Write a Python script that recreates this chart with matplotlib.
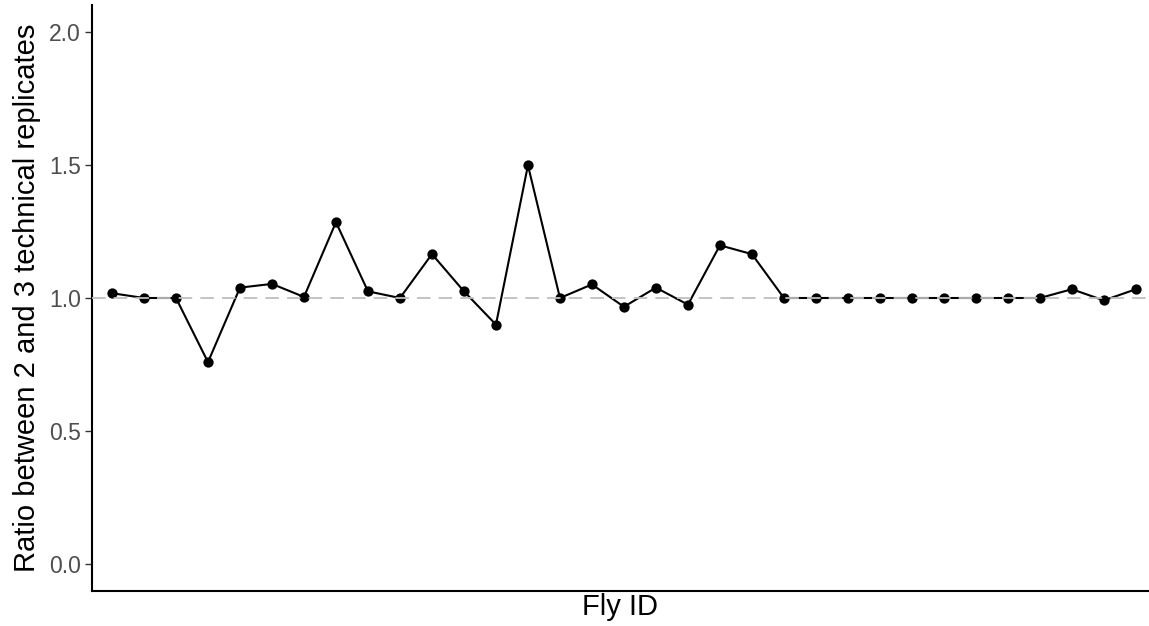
import matplotlib
matplotlib.use("Agg")
import matplotlib.pyplot as plt

fly_id = list(range(1, 34))
ratio = [1.018, 1.0, 1.0, 0.759, 1.039, 1.053, 1.004, 1.285, 1.025, 1.0,
         1.165, 1.025, 0.900, 1.499, 1.0, 1.051, 0.967, 1.039, 0.975, 1.198,
         1.165, 1.0, 1.0, 1.0, 1.0, 1.0, 1.0, 1.0, 1.0, 1.0,
         1.033, 0.991, 1.033]
y_ticks = [0.0, 0.5, 1.0, 1.5, 2.0]
y_tick_labels = ["0.0", "0.5", "1.0", "1.5", "2.0"]
ref_value = 1.0

plt.rcParams['font.family'] = ['Liberation Sans', 'DejaVu Sans']

W, H = 1149, 626
fig = plt.figure(figsize=(W / 100, H / 100), dpi=100)
left, right, top, bottom = 92, 1149, 5.4, 590.6
ax = fig.add_axes([left / W, 1 - bottom / H, (right - left) / W, (bottom - top) / H])

ax.plot(fly_id, ratio, color='black', linewidth=1.5, zorder=2)
ax.scatter(fly_id, ratio, s=55, color='black', zorder=3, linewidths=0)
ax.axhline(ref_value, color='#BEBEBE', linewidth=1.3, dashes=(7.5, 4.5), zorder=4)

ax.set_xlim(0.375, 33.41)
ax.set_ylim(-0.1, 2.1)
ax.set_yticks(y_ticks)
ax.set_yticklabels(y_tick_labels)
ax.set_xticks([])

for s in ['top', 'right']:
    ax.spines[s].set_visible(False)
for s in ['left', 'bottom']:
    ax.spines[s].set_linewidth(1.5)
    ax.spines[s].set_color('black')

ax.tick_params(axis='y', length=5, width=1.0, color='#333333', pad=3,
               labelsize=16.5, labelcolor='#4D4D4D')

ax.set_ylabel("Ratio between 2 and 3 technical replicates", fontsize=21, color='black', labelpad=6)
ax.set_xlabel("Fly ID", fontsize=21, color='black', labelpad=2)

fig.savefig("out.png", dpi=100)
